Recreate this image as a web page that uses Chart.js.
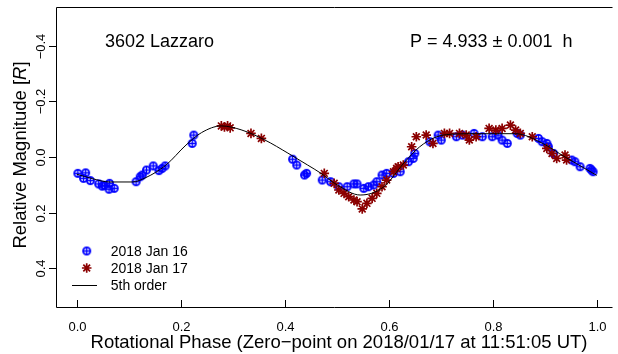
<!DOCTYPE html>
<html><head><meta charset="utf-8">
<script src="https://cdn.jsdelivr.net/npm/chart.js@4.4.0/dist/chart.umd.min.js"></script>
<style>html,body{margin:0;padding:0;background:#fff;}#wrap{position:relative;width:618px;height:354px;}</style>
</head><body><div id="wrap"><canvas id="c" width="618" height="354"></canvas></div>
<script>
// ---- data ----
const jan16Phase = [0.002,0.017,0.013,0.026,0.042,0.049,0.053,0.063,0.062,0.072,0.114,0.122,0.126,0.134,0.147,0.158,0.164,0.170,0.222,0.225,0.415,0.423,0.438,0.442,0.472,0.488,0.504,0.520,0.533,0.539,0.552,0.561,0.571,0.577,0.587,0.596,0.609,0.622,0.638,0.647,0.650,0.679,0.695,0.701,0.730,0.742,0.764,0.780,0.799,0.810,0.818,0.828,0.847,0.853,0.888,0.895,0.904,0.907,0.917,0.952,0.958,0.968,0.987,0.990,0.993];
const jan16Mag   = [0.059,0.057,0.077,0.085,0.097,0.105,0.102,0.095,0.116,0.113,0.089,0.071,0.065,0.047,0.032,0.049,0.041,0.032,-0.049,-0.079,0.008,0.029,0.065,0.059,0.083,0.089,0.107,0.107,0.097,0.097,0.113,0.107,0.101,0.089,0.065,0.059,0.059,0.053,0.017,0.005,-0.013,-0.055,-0.079,-0.061,-0.073,-0.079,-0.085,-0.073,-0.073,-0.079,-0.061,-0.049,-0.085,-0.079,-0.067,-0.055,-0.049,-0.037,-0.013,0.011,0.017,0.035,0.041,0.047,0.053];
const jan17Phase = [0.278,0.284,0.290,0.295,0.335,0.355,0.476,0.495,0.504,0.514,0.523,0.533,0.539,0.549,0.558,0.568,0.577,0.587,0.596,0.609,0.615,0.618,0.628,0.644,0.653,0.672,0.685,0.707,0.717,0.736,0.749,0.755,0.768,0.793,0.806,0.818,0.834,0.844,0.853,0.876,0.904,0.914,0.923,0.939,0.942];
const jan17Mag   = [-0.112,-0.108,-0.112,-0.105,-0.085,-0.067,0.059,0.095,0.119,0.131,0.143,0.155,0.161,0.187,0.167,0.149,0.131,0.107,0.083,0.053,0.041,0.035,0.029,-0.037,-0.073,-0.079,-0.049,-0.085,-0.085,-0.085,-0.079,-0.061,-0.073,-0.103,-0.097,-0.103,-0.115,-0.097,-0.085,-0.073,-0.031,-0.013,0.005,-0.007,0.011];
const fitPhase = [0.0,0.03,0.063,0.107,0.133,0.171,0.21,0.24,0.278,0.316,0.362,0.406,0.444,0.469,0.501,0.545,0.59,0.629,0.659,0.691,0.73,0.768,0.844,0.895,0.939,1.0];
const fitMag   = [0.062,0.078,0.09,0.09,0.074,0.03,-0.043,-0.088,-0.112,-0.098,-0.061,-0.014,0.029,0.058,0.101,0.137,0.108,0.022,-0.036,-0.072,-0.083,-0.084,-0.084,-0.05,0.0,0.066];
const xTicks = [0, 0.2, 0.4, 0.6, 0.8, 1.0];
const yTicks = [-0.4, -0.2, 0.0, 0.2, 0.4];
const seriesLabels = ['2018 Jan 16', '2018 Jan 17', '5th order'];
const objectName = '3602 Lazzaro';
const periodText = 'P = 4.933 \u00b1 0.001  h';
const xTitle = 'Rotational Phase (Zero\u2212point on 2018/01/17 at 11:51:05 UT)';

const BLUE = '#0000ff', RED = '#8b0000';
const FONT = '"Liberation Sans", Arial, Helvetica, sans-serif';

// circle-plus symbol (pch 10)
function makeCirclePlus() {
  const cv = document.createElement('canvas');
  cv.width = 11; cv.height = 11;
  const g = cv.getContext('2d');
  g.strokeStyle = BLUE; g.lineWidth = 1.8;
  g.beginPath(); g.arc(5.5, 5.5, 3.6, 0, Math.PI * 2); g.stroke();
  g.lineWidth = 1.3;
  g.beginPath(); g.moveTo(1.9, 5.5); g.lineTo(9.1, 5.5); g.moveTo(5.5, 1.9); g.lineTo(5.5, 9.1); g.stroke();
  return cv;
}
const circlePlus = makeCirclePlus();

const toXY = (xs, ys) => xs.map((x, i) => ({x: x, y: ys[i]}));

function fmt(v) { const s = Math.abs(v).toFixed(1); return (v < 0 ? '\u2212' : '') + s; }

const decor = {
  id: 'decor',
  afterDraw(chart) {
    const ctx = chart.ctx, a = chart.chartArea;
    const xs = chart.scales.x, ys = chart.scales.y;
    ctx.save();
    ctx.strokeStyle = '#000'; ctx.lineWidth = 1;
    // box (right side is outside the picture)
    ctx.beginPath();
    ctx.moveTo(a.right + 1, a.top + 0.5); ctx.lineTo(a.left + 0.5, a.top + 0.5);
    ctx.lineTo(a.left + 0.5, a.bottom + 0.5); ctx.lineTo(a.right + 1, a.bottom + 0.5);
    ctx.stroke();
    // x ticks
    ctx.fillStyle = '#000';
    ctx.font = '13px ' + FONT; ctx.textAlign = 'center'; ctx.textBaseline = 'alphabetic';
    xTicks.forEach(v => {
      const px = Math.round(xs.getPixelForValue(v)) + 0.5;
      ctx.beginPath(); ctx.moveTo(px, a.bottom); ctx.lineTo(px, a.bottom - 7); ctx.stroke();
      ctx.fillText(fmt(v), px, 331);
    });
    // y ticks
    yTicks.forEach(v => {
      const py = Math.round(ys.getPixelForValue(v)) + 0.5;
      ctx.beginPath(); ctx.moveTo(a.left, py); ctx.lineTo(a.left - 7, py); ctx.stroke();
      ctx.save(); ctx.translate(45, py); ctx.rotate(-Math.PI / 2);
      ctx.fillText(fmt(v), 0, 0); ctx.restore();
    });
    // axis titles
    ctx.font = '18.5px ' + FONT;
    ctx.fillText(xTitle, 339, 348);
    ctx.save(); ctx.translate(26, 155); ctx.rotate(-Math.PI / 2);
    const p1 = 'Relative Magnitude [', p2 = 'R', p3 = ']';
    ctx.font = '18.5px ' + FONT; const w1 = ctx.measureText(p1).width, w3 = ctx.measureText(p3).width;
    ctx.font = 'italic 18.5px ' + FONT; const w2 = ctx.measureText(p2).width;
    const tot = w1 + w2 + w3; let x0 = -tot / 2;
    ctx.textAlign = 'left';
    ctx.font = '18.5px ' + FONT; ctx.fillText(p1, x0, 0);
    ctx.font = 'italic 18.5px ' + FONT; ctx.fillText(p2, x0 + w1, 0);
    ctx.font = '18.5px ' + FONT; ctx.fillText(p3, x0 + w1 + w2, 0);
    ctx.restore();
    // annotations
    ctx.textAlign = 'left'; ctx.font = '18px ' + FONT;
    ctx.fillText(objectName, 105, 46.5);
    ctx.fillText(periodText, 410, 46.5);
    // legend
    const lx = 86.7, tx = 110.7, rows = [251, 268, 285];
    ctx.font = '14px ' + FONT;
    ctx.drawImage(circlePlus, lx - 5.5, rows[0] - 5.5);
    ctx.strokeStyle = RED; ctx.lineWidth = 1.7;
    const r = 4.8;
    ctx.beginPath();
    ctx.moveTo(lx - r, rows[1]); ctx.lineTo(lx + r, rows[1]);
    ctx.moveTo(lx, rows[1] - r); ctx.lineTo(lx, rows[1] + r);
    const d = r * Math.SQRT1_2;
    ctx.moveTo(lx - d, rows[1] - d); ctx.lineTo(lx + d, rows[1] + d);
    ctx.moveTo(lx - d, rows[1] + d); ctx.lineTo(lx + d, rows[1] - d);
    ctx.stroke();
    ctx.strokeStyle = '#000'; ctx.lineWidth = 1;
    ctx.beginPath(); ctx.moveTo(72, rows[2] + 0.5); ctx.lineTo(97, rows[2] + 0.5); ctx.stroke();
    ctx.fillStyle = '#000';
    seriesLabels.forEach((t, i) => ctx.fillText(t, tx, rows[i] + 5));
    ctx.restore();
  }
};

new Chart(document.getElementById('c'), {
  type: 'scatter',
  data: {
    datasets: [
      { label: seriesLabels[2], type: 'line', data: toXY(fitPhase, fitMag), borderColor: '#000', borderWidth: 1,
        pointRadius: 0, cubicInterpolationMode: 'monotone', fill: false, order: 0 },
      { label: seriesLabels[1], data: toXY(jan17Phase, jan17Mag), pointStyle: 'star', radius: 4.8,
        borderColor: RED, backgroundColor: RED, borderWidth: 1.7, order: 1 },
      { label: seriesLabels[0], data: toXY(jan16Phase, jan16Mag), pointStyle: circlePlus, radius: 4,
        borderColor: BLUE, backgroundColor: BLUE, order: 2 }
    ]
  },
  options: {
    responsive: false, animation: false, devicePixelRatio: 1,
    layout: { padding: { left: 56, right: 0, top: 7, bottom: 47 } },
    plugins: { legend: { display: false }, tooltip: { enabled: false } },
    scales: {
      x: { type: 'linear', min: -0.04, max: 1.0284, display: false },
      y: { type: 'linear', min: -0.5405, max: 0.5405, reverse: true, display: false }
    }
  },
  plugins: [decor]
});
</script></body></html>
